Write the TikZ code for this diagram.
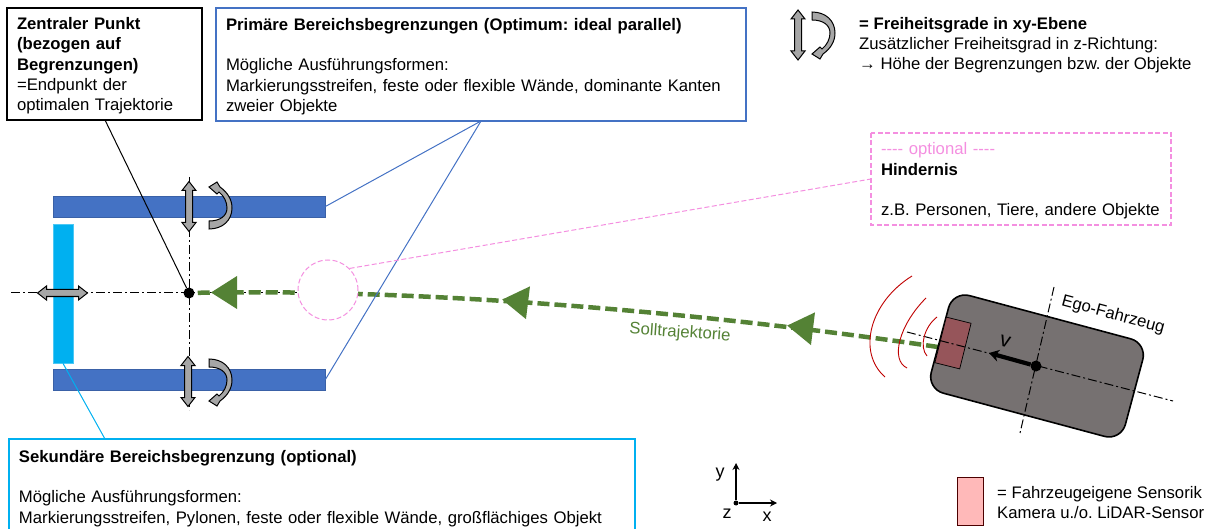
\documentclass[tikz,border=0pt]{standalone}
\usepackage{fontspec}
\setmainfont{Liberation Sans}
\usepackage{xcolor}
\usetikzlibrary{arrows.meta,positioning,calc}
\definecolor{wallblue}{HTML}{4472C4}
\definecolor{wallcyan}{HTML}{00B0F0}
\definecolor{trajgreen}{HTML}{548235}
\definecolor{obstpink}{HTML}{F48FE0}
\definecolor{cargrey}{HTML}{767171}
\definecolor{dofgrey}{HTML}{A6A6A6}
\tikzset{
  infobox/.style={outer sep=0pt,align=left,inner xsep=10pt,inner ysep=0pt,anchor=north west,font=\fontsize{16.7}{20.3}\selectfont\frenchspacing,execute at begin node={\rule{0pt}{16pt}}},
  boxframe/.style={line width=1.3pt},
  wall/.style={draw=wallblue!85!black,fill=wallblue,line width=.8pt,inner sep=0pt,minimum width=272pt,minimum height=21pt},
  axisline/.style={line width=1pt,dash pattern=on 9pt off 3pt on 2pt off 3pt},
  leader/.style={line width=1pt},
  pinkdash/.style={dash pattern=on 5pt off 2.5pt},
  plaintext/.style={inner sep=0pt,align=left,font=\fontsize{16.7}{20.3}\selectfont\frenchspacing},
  dofshift/.pic={\draw[fill=dofgrey,line width=1pt] (0,-25)--(7,-16)--(3.5,-16)--(3.5,16)--(7,16)--(0,25)--(-7,16)--(-3.5,16)--(-3.5,-16)--(-7,-16)--cycle;},
  dofturn/.pic={\draw[fill=dofgrey,line width=1pt] (0,-22) .. controls (14,-22) and (23,-13) .. (23,-1) .. controls (23,8) and (18,15) .. (11,20)--(8,25)--(0,20)--(8,13)--(10,15) .. controls (15,11) and (18,5) .. (18,-1) .. controls (18,-9) and (11,-14) .. (0,-14)--cycle;},
  trajtip/.pic={\fill[trajgreen] (-24,0)--(2,-16.5)--(2,16.5)--cycle;}
}
\begin{document}
\begin{tikzpicture}[x=1pt,y=-1pt]
\useasboundingbox (0,0) rectangle (1215,529);

\node[infobox,minimum width=195pt,minimum height=112pt,text width=175pt] (zentrumbox) at (7,8)
  {\textbf{Zentraler Punkt}\\\textbf{(bezogen auf}\\\textbf{Begrenzungen)}\\=Endpunkt der\\optimalen Trajektorie};
\node[infobox,minimum width=530pt,minimum height=113pt,text width=510pt] (primbox) at (216,8)
  {\textbf{Primäre Bereichsbegrenzungen (Optimum: ideal parallel)}\\[20.3pt]Mögliche Ausführungsformen:\\Markierungsstreifen, feste oder flexible Wände, dominante Kanten\\zweier Objekte};
\node[infobox,minimum width=300pt,minimum height=92pt,text width=280pt] (obstbox) at (871,133)
  {\textcolor{obstpink}{-{}-{}-{}- optional -{}-{}-{}-}\\\textbf{Hindernis}\\[20.3pt]z.B. Personen, Tiere, andere Objekte};
\node[infobox,minimum width=626pt,minimum height=95pt,text width=606pt] (sekbox) at (9,439)
  {\textbf{Sekundäre Bereichsbegrenzung (optional)}\\[20.3pt]Mögliche Ausführungsformen:\\Markierungsstreifen, Pylonen, feste oder flexible Wände, großflächiges Objekt};
\draw[boxframe] (zentrumbox.north west) rectangle (zentrumbox.south east);
\draw[boxframe,wallblue] (primbox.north west) rectangle (primbox.south east);
\draw[boxframe,obstpink,pinkdash] (obstbox.north west) rectangle (obstbox.south east);
\draw[boxframe,wallcyan] (sekbox.north west) rectangle (sekbox.south east);

\node[wall] (walltop) at (189,206.5) {};
\node[wall] (wallbot) at (189,379.5) {};
\node[draw=wallcyan!70!white,fill=wallcyan,line width=.8pt,inner sep=0pt,minimum width=20pt,minimum height=139pt] (wallleft) at (63,293.5) {};

\coordinate (axW) at (11,293);
\coordinate (axE) at (298,293);
\coordinate (axN) at (189,177);
\coordinate (axS) at (189,410);
\draw[axisline] (axW)--(axE);
\draw[axisline] (axN)--(axS);

\draw[trajgreen,line width=4.5pt,dash pattern=on 12pt off 5pt] (938,347) .. controls (680,309) and (400,288) .. (189,293);
\node[circle,draw=obstpink,pinkdash,fill=white,line width=1pt,minimum size=60pt,inner sep=0pt] (obst) at (328,290) {};
\node[circle,fill=black,minimum size=11pt,inner sep=0pt] (zentrum) at (189,293) {};

\foreach \x/\y/\r in {235/292.5/0,526/302.5/-7,811/328.5/-7}
  \pic[rotate=\r] at (\x,\y) {trajtip};
\node[trajgreen,rotate=-4,font=\fontsize{16.7}{20}\selectfont] (solllabel) at (680,333) {Solltrajektorie};

\foreach \x/\y/\r in {189/206.5/0,188/381.5/0,62.5/293/90,798/35/0}
  \pic[rotate=\r] at (\x,\y) {dofshift};
\pic[yscale=-1] at (209,207) {dofturn};
\pic at (209,381) {dofturn};
\pic at (812,34) {dofturn};

\coordinate (zentrumfoot) at (105,120);
\coordinate (primfoot) at (481,121);
\coordinate (sekfoot) at (105,439);
\draw[leader] (zentrumfoot)--(zentrum);
\draw[leader,wallblue] (walltop.east)--(primfoot);
\draw[leader,wallblue] (wallbot.east)--(primfoot);
\draw[leader,wallcyan] (wallleft.south)--(sekfoot);
\draw[leader,obstpink,pinkdash] (obst.45)--(obstbox.west);

\node[draw=black,fill=cargrey,line width=1.6pt,rounded corners=17pt,rotate=-15,minimum width=201pt,minimum height=101pt,inner sep=0pt] (car) at (1037,366) {};
\node[draw=black,fill={rgb,255:red,150;green,85;blue,90},line width=.7pt,rotate=-14,minimum width=25.5pt,minimum height=47pt,inner sep=0pt] (sensor) at (953,343) {};

\coordinate (carW) at (907,332);
\coordinate (carE) at (1173,401);
\coordinate (carN) at (1054,287);
\coordinate (carS) at (1020,433);
\draw[axisline] (carW)--(carE);
\draw[axisline] (carN)--(carS);

\draw[red!75!black,line width=.9pt] (912,276) .. controls (870,302) and (856.5,352) .. (885,377);
\draw[red!75!black,line width=.9pt] (926,298) .. controls (899,325) and (890,360) .. (907,368);
\draw[red!75!black,line width=.9pt] (937,317) .. controls (924,327) and (919,347) .. (927,356);

\node[circle,fill=black,minimum size=11pt,inner sep=0pt] (carmid) at (1036,366) {};
\coordinate (vtip) at (989,353);
\draw[line width=4.2pt,-{Stealth[length=10pt,width=12pt]}] (carmid)--(vtip);
\node[rotate=-15,font=\fontsize{21}{24}\selectfont] (vlabel) at (1005,341) {v};
\node[rotate=-15,font=\fontsize{16.7}{20}\selectfont] (egolabel) at (1113,315) {Ego-Fahrzeug};

\node[plaintext,anchor=north west] (doflabel) at (859,17) {\textbf{= Freiheitsgrade in xy-Ebene}\\Zusätzlicher Freiheitsgrad in z-Richtung:\\→ Höhe der Begrenzungen bzw. der Objekte};

\node[circle,fill=black,minimum size=5pt,inner sep=0pt] (ursprung) at (736,503) {};
\coordinate (ytip) at (736,463);
\coordinate (xtip) at (777,503);
\draw[line width=1.2pt,-{Stealth[length=7pt,width=7pt]}] (ursprung)--(ytip);
\draw[line width=1.2pt,-{Stealth[length=7pt,width=7pt]}] (ursprung)--(xtip);
\foreach \x/\y/\t in {720/475/y,727/514/z,767/517/x}
  \node[font=\fontsize{18}{20}\selectfont] (achse\t) at (\x,\y) {\t};

\node[draw=black!70!red,fill={rgb,255:red,255;green,185;blue,185},line width=.9pt,minimum width=26pt,minimum height=48pt,inner sep=0pt] (sensorkey) at (970,501.5) {};
\node[plaintext,anchor=north west] (sensorlabel) at (997,486) {= Fahrzeugeigene Sensorik\\Kamera u./o. LiDAR-Sensor};
\end{tikzpicture}
\end{document}
